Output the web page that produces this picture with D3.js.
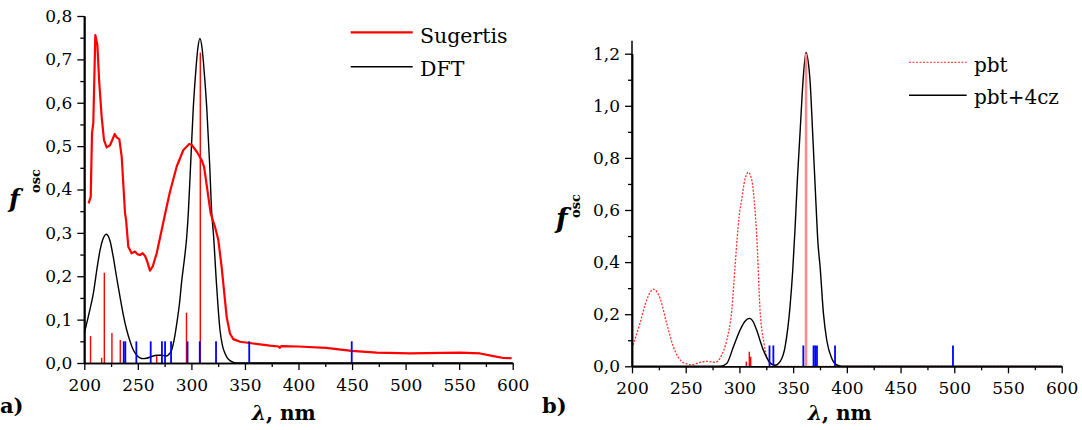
<!DOCTYPE html>
<html>
<head>
<meta charset="utf-8">
<script src="https://cdn.jsdelivr.net/npm/d3@7"></script>
<style>
  html, body { margin: 0; padding: 0; background: #fff; }
  svg { display: block; }
</style>
</head>
<body>
<svg id="chart" width="1082" height="430"></svg>
<script>
// ---------- Panel a data ----------
const sugWl = [204,206,207.2,208.4,210.3,212.2,214,216.2,218.4,220.9,224,226.1,228.4,230.3,232.7,234.9,236.5,238,239,241.1,244.2,247.3,249.5,252,254.5,256.7,258.8,261.3,263.8,267.6,272.3,276.9,280,286.3,292.5,298,300.3,305,309.6,311.8,314.9,318,322,325.1,328.2,330.4,332.9,336,339.1,345.4,357.8,373.4,381.4,382.5,384,400,425.6,449.7,473,504,550.8,569.5,582,591.3,599];
const sugF  = [0.368,0.383,0.53,0.553,0.756,0.733,0.645,0.568,0.514,0.497,0.502,0.514,0.528,0.52,0.516,0.476,0.41,0.346,0.33,0.268,0.253,0.257,0.251,0.249,0.253,0.247,0.234,0.213,0.222,0.253,0.307,0.36,0.395,0.453,0.491,0.505,0.503,0.487,0.468,0.453,0.399,0.345,0.314,0.284,0.222,0.168,0.107,0.068,0.055,0.049,0.045,0.04,0.038,0.035,0.039,0.038,0.035,0.028,0.024,0.022,0.024,0.022,0.016,0.0115,0.011];

const dftWl = [200,204,208.4,212,214.7,217,220.5,224,227,230,233.3,236.5,239.6,243,245.8,249,252,255,258.2,263,267.6,272,276.9,279,281.6,284,286.3,289,291,293.5,295.6,297.1,299.5,301.8,304,306,308,310,312,314.3,317,319,320.5,323.6,326.7,329,331.4,333.5,335.8,340,345,600];
const dftF  = [0.068,0.11,0.16,0.22,0.26,0.283,0.297,0.282,0.245,0.2,0.153,0.11,0.076,0.048,0.03,0.018,0.012,0.01,0.011,0.015,0.018,0.018,0.016,0.02,0.03,0.055,0.09,0.14,0.19,0.24,0.29,0.345,0.47,0.59,0.67,0.725,0.748,0.725,0.67,0.59,0.46,0.345,0.3,0.176,0.076,0.04,0.022,0.012,0.006,0.001,0,0];

const aRedStickWl = [205.8,216.2,218.7,225.8,233.6,267.6,295.4,308.3];
const aRedStickF  = [0.062,0.012,0.208,0.069,0.053,0.016,0.116,0.716];
const aBlueStickWl = [236.8,238.3,248.6,262,272.5,275.4,281,296.4,307.8,323,354,449.7];
const aBlueStickF  = [0.05,0.05,0.05,0.05,0.05,0.05,0.05,0.05,0.05,0.05,0.05,0.05];

const aYTicks = [0,0.1,0.2,0.3,0.4,0.5,0.6,0.7,0.8];
const aYMinor = [0.05,0.15,0.25,0.35,0.45,0.55,0.65,0.75];
const xTicks = [200,250,300,350,400,450,500,550,600];
const xMinor = [225,275,325,375,425,475,525,575];
const aLegend = ["Sugertis","DFT"];

// ---------- Panel b data ----------
const pbtWl = [200,207.4,213.7,219.9,226.1,232.3,238.5,243,247.8,255.6,263.3,269.6,277.3,283.5,288.2,292.9,295.9,299.7,302.1,305,308.3,311.5,314.5,316,319.2,322.9,328.5,334.7,340,600];
const pbtF  = [0.069,0.165,0.255,0.296,0.261,0.165,0.075,0.035,0.014,0.006,0.015,0.019,0.015,0.043,0.1,0.216,0.382,0.574,0.64,0.715,0.745,0.715,0.6,0.51,0.216,0.088,0.011,0.002,0,0];

const czWl = [200,282,288.2,294.4,300.6,305,309.2,313,316,322.2,328.5,333.1,337.8,342.5,347.1,349.5,351.8,354,356.4,359.5,362,364,365.7,368.2,371.3,373,375.1,378.2,381.3,386,390.7,396,600];
const czF  = [0,0,0.011,0.075,0.139,0.172,0.184,0.17,0.139,0.063,0.014,0.004,0.018,0.075,0.229,0.36,0.53,0.72,0.894,1.112,1.205,1.17,1.099,0.894,0.62,0.48,0.382,0.203,0.1,0.03,0.005,0,0];

const bRedStickWl = [306.4,309.2,310.5];
const bRedStickF  = [0.018,0.056,0.037];
const bPinkStickWl = [362];
const bPinkStickF  = [1.2];
const bBlueStickWl = [328,331.6,359.5,369,370.5,372.2,389,498.8];
const bBlueStickF  = [0.08,0.08,0.08,0.08,0.08,0.08,0.08,0.08];

const bYTicks = [0,0.2,0.4,0.6,0.8,1.0,1.2];
const bYMinor = [0.1,0.3,0.5,0.7,0.9,1.1];
const bLegend = ["pbt","pbt+4cz"];

// ---------- drawing ----------
const FONT = "DejaVu Serif";
const svg = d3.select("#chart");
const fmtY = d => d3.format(".1f")(d).replace(".", ",");

function T(sel) { return sel.attr("font-family", FONT).style("font-family", FONT).attr("fill", "#000"); }

function drawAxes(g, x, y, yTicks, yMinor, yTopVal) {
  const xMaj = d3.axisBottom(x).tickValues(xTicks).tickSize(7).tickSizeOuter(0).tickPadding(9).tickFormat(d3.format("d"));
  const xMin = d3.axisBottom(x).tickValues(xMinor).tickSize(4).tickSizeOuter(0).tickFormat("");
  const yMaj = d3.axisLeft(y).tickValues(yTicks).tickSize(7).tickSizeOuter(0).tickPadding(5).tickFormat(fmtY);
  const yMin = d3.axisLeft(y).tickValues(yMinor).tickSize(4).tickSizeOuter(0).tickFormat("");
  const x0 = x.range()[0], y0 = y(0);
  [[xMaj, "x"], [xMin, "x"], [yMaj, "y"], [yMin, "y"]].forEach(([ax, k]) => {
    const a = g.append("g")
      .attr("transform", k === "x" ? `translate(0,${y0})` : `translate(${x0},0)`)
      .call(ax);
    a.attr("font-family", FONT).attr("font-size", 17);
    a.select(".domain").attr("stroke", "#000").attr("stroke-width", 1.5);
    a.selectAll(".tick line").attr("stroke", "#000").attr("stroke-width", 1.3);
    T(a.selectAll(".tick text")).style("font-size", "17px");
  });
  g.append("line").attr("x1", x0).attr("x2", x0).attr("y1", y(0)).attr("y2", y(yTopVal))
    .attr("stroke", "#000").attr("stroke-width", 1.5);
}

function sticks(g, x, y, wl, f, color, w) {
  g.selectAll(null).data(wl.map((d, i) => [d, f[i]])).enter().append("line")
    .attr("x1", d => x(d[0])).attr("x2", d => x(d[0]))
    .attr("y1", y(0)).attr("y2", d => y(d[1]))
    .attr("stroke", color).attr("stroke-width", w);
}

function curve(g, x, y, wl, f, color, w, dash, cv) {
  const line = d3.line().x(d => x(d[0])).y(d => y(d[1])).curve(cv || d3.curveMonotoneX);
  const p = g.append("path").datum(wl.map((d, i) => [d, f[i]]))
    .attr("d", line).attr("fill", "none").attr("stroke", color).attr("stroke-width", w)
    .attr("stroke-linejoin", "round");
  if (dash) p.attr("stroke-dasharray", dash);
}

function yLabel(g, fx, fy, ox, oy, fsize) {
  T(g.append("text")).attr("x", fx).attr("y", fy)
    .style("font-size", fsize + "px").style("font-weight", "bold").style("font-style", "italic").text("f");
  T(g.append("text")).attr("transform", `translate(${ox},${oy}) rotate(-90)`)
    .attr("text-anchor", "middle")
    .style("font-size", "13px").style("font-weight", "bold").text("osc");
}

function xLabel(g, xs, ys) {
  const t = T(g.append("text")).attr("x", xs).attr("y", ys).style("font-size", "20px").style("font-weight", "bold");
  t.append("tspan").style("font-style", "italic").text("λ");
  t.append("tspan").text(", nm");
}

// Panel a
const ga = svg.append("g");
const xa = d3.scaleLinear().domain([200, 600]).range([84.3, 512.7]);
const ya = d3.scaleLinear().domain([0, 0.8]).range([363, 16]);
curve(ga, xa, ya, dftWl, dftF, "#000", 1.4);
curve(ga, xa, ya, sugWl, sugF, "#ff0000", 2.2, null, d3.curveLinear);
sticks(ga, xa, ya, aRedStickWl, aRedStickF, "#ff0000", 1.4);
sticks(ga, xa, ya, aBlueStickWl, aBlueStickF, "#0000ff", 1.8);
drawAxes(ga, xa, ya, aYTicks, aYMinor, 0.8);
yLabel(ga, 9, 207, 40, 181, 25);
xLabel(ga, 252, 420);
T(ga.append("text")).attr("x", 0).attr("y", 413).style("font-size", "21px").style("font-weight", "bold").text("a)");
[["#ff0000", 2.2, 32.3, 42.5], ["#000", 1.4, 66.7, 76]].forEach((r, i) => {
  ga.append("line").attr("x1", 350.7).attr("x2", 412.7).attr("y1", r[2]).attr("y2", r[2])
    .attr("stroke", r[0]).attr("stroke-width", r[1]);
  T(ga.append("text")).attr("x", 420).attr("y", r[3]).style("font-size", "20.5px").text(aLegend[i]);
});

// Panel b
const gb = svg.append("g");
const xb = d3.scaleLinear().domain([200, 600]).range([632, 1061.7]);
const yb = d3.scaleLinear().domain([0, 1.2]).range([366.3, 53.7]);
curve(gb, xb, yb, pbtWl, pbtF, "#ff3333", 1.3, "2,1.5");
curve(gb, xb, yb, czWl, czF, "#000", 1.4);
sticks(gb, xb, yb, bRedStickWl, bRedStickF, "#ff0000", 1.4);
sticks(gb, xb, yb, bPinkStickWl, bPinkStickF, "#ff8888", 2.5);
sticks(gb, xb, yb, bBlueStickWl, bBlueStickF, "#0000ff", 1.8);
drawAxes(gb, xb, yb, bYTicks, bYMinor, 1.25);
yLabel(gb, 556, 228, 580, 206, 27);
xLabel(gb, 808, 420);
T(gb.append("text")).attr("x", 542).attr("y", 413).style("font-size", "21px").style("font-weight", "bold").text("b)");
[["#ff5555", 1.3, 62.3, 71.7, "2,1.5"], ["#000", 1.4, 95.3, 104, null]].forEach((r, i) => {
  const l = gb.append("line").attr("x1", 909).attr("x2", 966.7).attr("y1", r[2]).attr("y2", r[2])
    .attr("stroke", r[0]).attr("stroke-width", r[1]);
  if (r[4]) l.attr("stroke-dasharray", r[4]);
  T(gb.append("text")).attr("x", 974).attr("y", r[3]).style("font-size", "20px").text(bLegend[i]);
});
</script>
</body>
</html>
